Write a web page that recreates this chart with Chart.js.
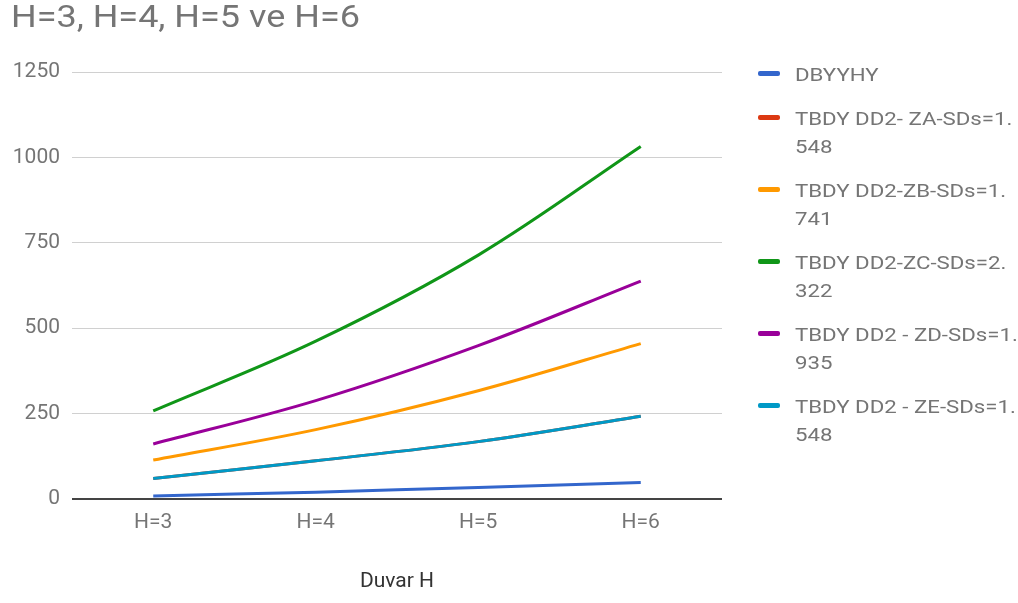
<!DOCTYPE html>
<html>
<head>
<meta charset="utf-8">
<script src="https://cdn.jsdelivr.net/npm/chart.js@4"></script>
<style>
  html, body { margin: 0; padding: 0; background: #fff; }
  #wrap { position: relative; width: 1018px; height: 603px; overflow: hidden; font-family: Roboto, "Noto Sans", sans-serif; }
  #chart { position: absolute; left: 0; top: 0; }
  #title { position: absolute; left: 11px; top: -3px; font-size: 32px; color: #757575; white-space: nowrap; transform: scaleX(1.125); transform-origin: 0 0; }
  #legend { position: absolute; left: 758px; top: 61px; display: flex; flex-direction: column; gap: 16px; }
  .item { position: relative; height: auto; font-size: 19px; line-height: 28px; color: #757575; white-space: nowrap; }
  .swatch { position: absolute; left: 0; top: 10px; width: 22px; height: 5px; border-radius: 2px; }
  .text { display: inline-block; margin-left: 37px; transform: scaleX(1.17); transform-origin: 0 0; }
</style>
</head>
<body>
<div id="wrap">
  <canvas id="chart" width="1018" height="603"></canvas>
  <div id="title">H=3, H=4, H=5 ve H=6</div>
  <div id="legend"></div>
</div>
<script>
// Wall heights on the category axis
const categories = ['H=3', 'H=4', 'H=5', 'H=6'];

// One array per method / soil class
const dbyyhy   = [9, 20, 34, 48];
const zaValues = [60, 112, 168, 242];
const zbValues = [114, 203, 317, 455];
const zcValues = [258, 462, 714, 1032];
const zdValues = [161, 288, 449, 638];
const zeValues = [60, 112, 168, 242];

// Value axis ticks
const yTicks = [0, 250, 500, 750, 1000, 1250];

// Series names, as wrapped in the legend
const seriesLines = [
  ['DBYYHY'],
  ['TBDY DD2- ZA-SDs=1.', '548'],
  ['TBDY DD2-ZB-SDs=1.', '741'],
  ['TBDY DD2-ZC-SDs=2.', '322'],
  ['TBDY DD2 - ZD-SDs=1.', '935'],
  ['TBDY DD2 - ZE-SDs=1.', '548']
];
const seriesColors = ['#3366cc', '#dc3912', '#ff9900', '#109618', '#990099', '#0099c6'];
const seriesValues = [dbyyhy, zaValues, zbValues, zcValues, zdValues, zeValues];

const datasets = seriesValues.map((vals, i) => ({
  label: seriesLines[i].join(''),
  data: vals,
  borderColor: seriesColors[i],
  backgroundColor: seriesColors[i],
  borderWidth: 3,
  pointRadius: 0,
  pointHoverRadius: 0,
  fill: false,
  tension: 0.35,
  order: seriesValues.length - i
}));

const chart = new Chart(document.getElementById('chart'), {
  type: 'line',
  data: { labels: categories, datasets },
  options: {
    responsive: false,
    animation: false,
    events: [],
    layout: { padding: { left: 0, right: 296, top: 72, bottom: 0 } },
    plugins: {
      legend: { display: false },
      title: { display: false },
      tooltip: { enabled: false }
    },
    scales: {
      x: {
        offset: true,
        grid: { display: false, drawTicks: false },
        border: { display: false },
        ticks: { color: '#757575', font: { family: 'Roboto', size: 21 }, padding: 11 },
        title: {
          display: true,
          text: 'Duvar H',
          color: '#333333',
          font: { family: 'Roboto', size: 21 },
          padding: { top: 0, bottom: 9 }
        },
        afterFit: (scale) => { scale.height = 104; }
      },
      y: {
        min: 0,
        max: 1250,
        afterBuildTicks: (scale) => { scale.ticks = yTicks.map(v => ({ value: v })); },
        grid: {
          drawTicks: false,
          color: (ctx) => ctx.tick && ctx.tick.value === 0 ? '#444444' : '#d0d0d0',
          lineWidth: (ctx) => ctx.tick && ctx.tick.value === 0 ? 2 : 1
        },
        border: { display: false },
        ticks: {
          color: '#757575',
          font: { family: 'Roboto', size: 21 },
          padding: 12,
          callback: (v) => String(v)
        },
        afterFit: (scale) => { scale.width = 72; }
      }
    }
  }
});

// Legend built from the chart's datasets
const legend = document.getElementById('legend');
chart.data.datasets.forEach((ds, i) => {
  const item = document.createElement('div');
  item.className = 'item';
  const sw = document.createElement('span');
  sw.className = 'swatch';
  sw.style.background = ds.borderColor;
  item.appendChild(sw);
  const txt = document.createElement('span');
  txt.className = 'text';
  seriesLines[i].forEach((line, k) => {
    if (k) txt.appendChild(document.createElement('br'));
    txt.appendChild(document.createTextNode(line));
  });
  item.appendChild(txt);
  legend.appendChild(item);
});
</script>
</body>
</html>
